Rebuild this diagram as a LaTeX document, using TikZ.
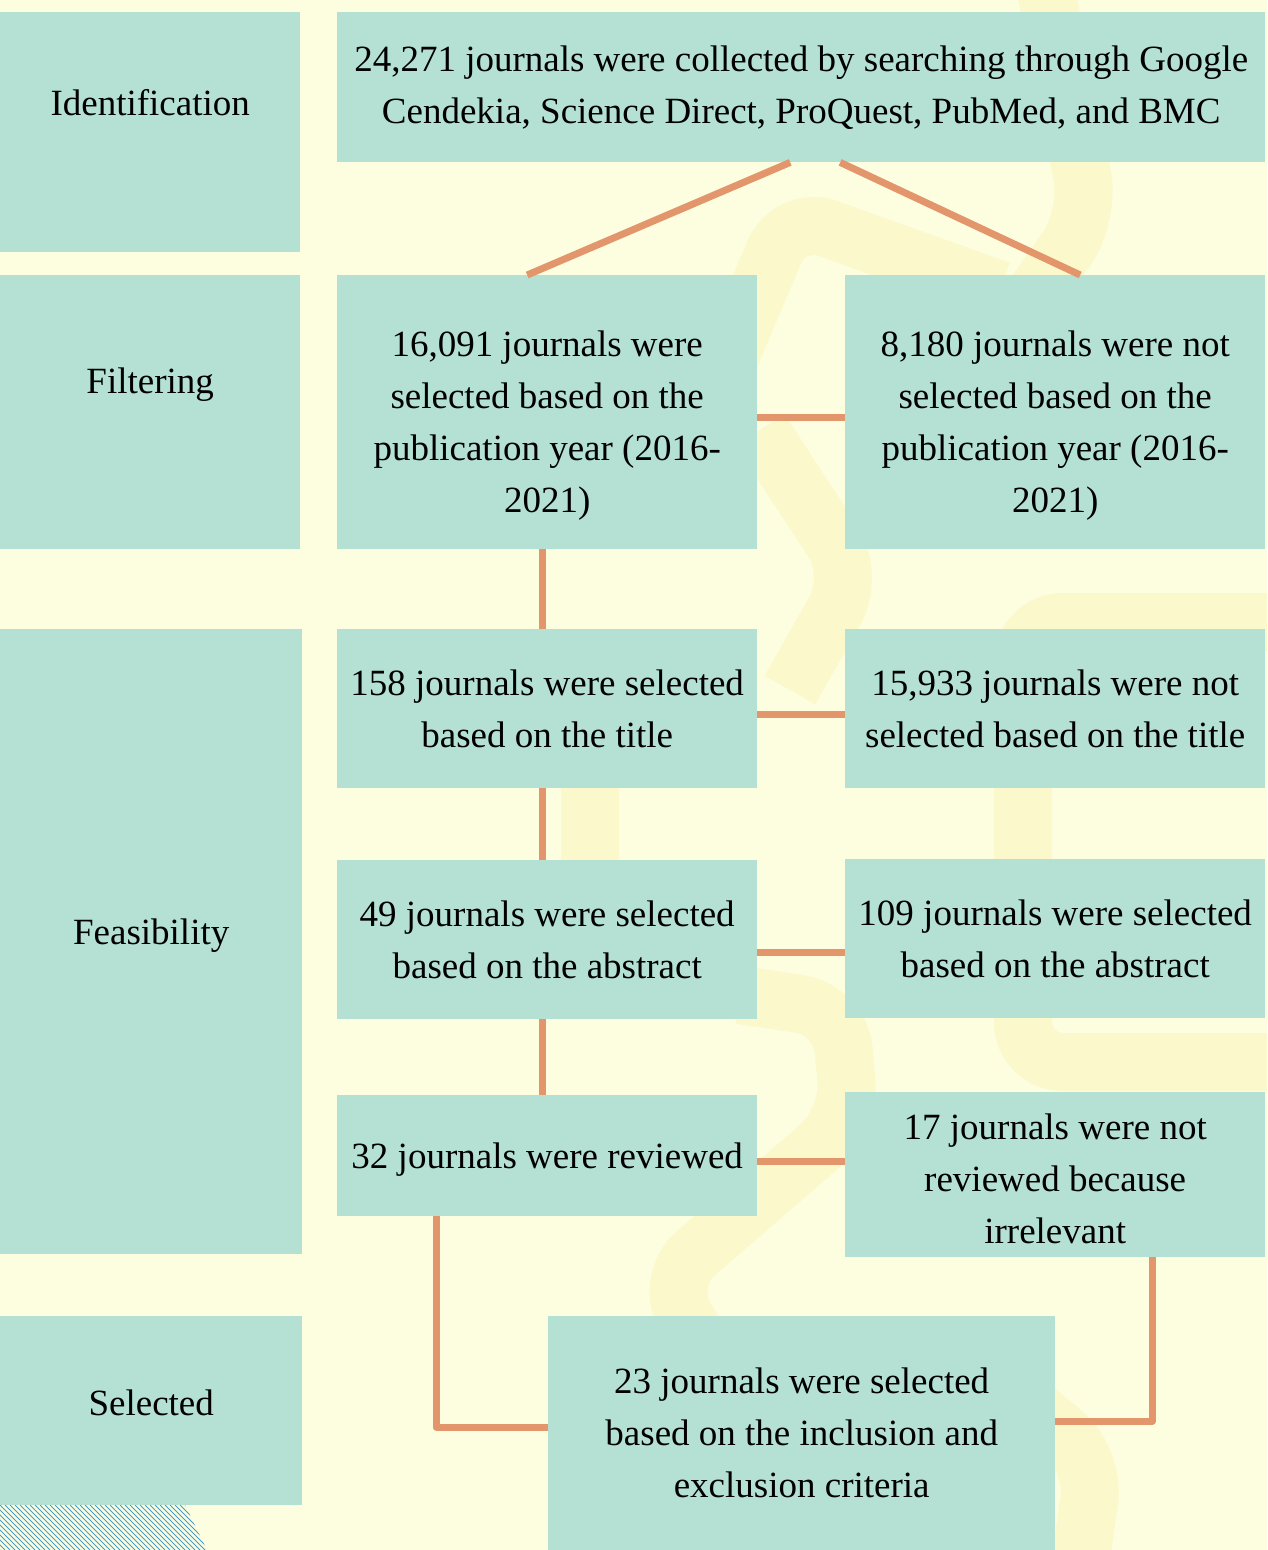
\documentclass[tikz,border=0pt]{standalone}
\usepackage{fontspec}
\setmainfont{Liberation Serif}

\definecolor{bgyellow}{HTML}{FDFEE0}
\definecolor{bandyellow}{HTML}{FBF8CB}
\definecolor{boxgreen}{HTML}{B4E1D4}
\definecolor{linkorange}{HTML}{E3956C}
\definecolor{hatchblue}{HTML}{4A9CC8}

\begin{document}
\begin{tikzpicture}[x=1pt,y=-1pt,
    stage/.style ={fill=boxgreen, inner sep=0pt, anchor=north west,
                   align=center, font=\fontsize{37}{52}\selectfont},
    phase/.style ={font=\fontsize{37}{52}\selectfont},
    link/.style ={draw=linkorange, line width=7pt, line join=round},
    band/.style ={draw=bandyellow, line width=58pt, rounded corners=40pt}]
   \useasboundingbox (0,0) rectangle (1267,1550);
   \fill[bgyellow] (0,0) rectangle (1267,1550);

   % faint background bands
   \begin{scope}
   \clip (0,0) rectangle (1267,1550);
   \draw[band] (1040,-40) -- (1090,215) -- (1010,330);
   \draw[band] (1000,290) -- (790,215) -- (720,380);
   \draw[band] (760,430) -- (855,575) -- (790,690);
   \draw[band] (590,650) -- (590,1000);
   \draw[band] (1300,622) -- (1023,622) -- (1023,1062) -- (1300,1062);
   \draw[band] (740,995) -- (840,1010) -- (850,1120) -- (665,1280) -- (720,1380);
   \draw[band] (1000,1380) -- (1095,1460) -- (1075,1600);
   \end{scope}

   % hatching in the corner
   \begin{scope}
   \clip (0,1505) -- (185,1505) -- (207,1550) -- (0,1550) -- cycle;
   \foreach \i in {0,5,...,260}
      \draw[hatchblue, line width=0.8pt] (\i-45,1505) -- (\i,1550);
   \end{scope}
   \draw[hatchblue, line width=1pt] (0.5,1397) -- (0.5,1505);

   % phases
   \node[stage, minimum width=300pt, minimum height=240pt,
         label={[name=identtxt, phase, yshift=30pt]center:Identification}] (ident) at (0,12) {};
   \node[stage, minimum width=300pt, minimum height=274pt,
         label={[name=filttxt, phase, yshift=28pt]center:Filtering}] (filt) at (0,275) {};
   \node[stage, minimum width=302pt, minimum height=625pt,
         label={[name=feastxt, phase, yshift=6pt]center:Feasibility}] (feas) at (0,629) {};
   \node[stage, minimum width=302pt, minimum height=189pt,
         label={[name=seltxt, phase, yshift=8pt]center:Selected}] (selside) at (0,1316) {};

   % journals
   \node[stage, minimum width=928pt, minimum height=150pt] (search) at (337,12)
        {24,271 journals were collected by searching through Google\\Cendekia, Science Direct, ProQuest, PubMed, and BMC};
   \node[stage, minimum width=420pt, minimum height=274pt] (pubyes) at (337,275)
        {\rule{0pt}{52pt}16,091 journals were\\selected based on the\\publication year (2016-\\2021)};
   \node[stage, minimum width=420pt, minimum height=274pt] (pubno) at (845,275)
        {\rule{0pt}{52pt}8,180 journals were not\\selected based on the\\publication year (2016-\\2021)};
   \node[stage, minimum width=420pt, minimum height=159pt] (titleyes) at (337,629)
        {158 journals were selected\\based on the title};
   \node[stage, minimum width=420pt, minimum height=159pt] (titleno) at (845,629)
        {15,933 journals were not\\selected based on the title};
   \node[stage, minimum width=420pt, minimum height=159pt] (absyes) at (337,860)
        {49 journals were selected\\based on the abstract};
   \node[stage, minimum width=420pt, minimum height=159pt] (absno) at (845,859)
        {109 journals were selected\\based on the abstract};
   \node[stage, minimum width=420pt, minimum height=121pt] (revyes) at (337,1095)
        {\rule{0pt}{34pt}32 journals were reviewed};
   \node[stage, minimum width=420pt, minimum height=165pt] (revno) at (845,1092)
        {\rule{0pt}{34pt}17 journals were not\\reviewed because\\irrelevant};
   \node[stage, minimum width=507pt, minimum height=234pt] (final) at (548,1316)
        {23 journals were selected\\based on the inclusion and\\exclusion criteria};

   \draw[link] ([xshift=-11pt]search.south) -- ([xshift=-20pt]pubyes.north);
   \draw[link] ([xshift=39pt]search.south) -- ([xshift=25pt]pubno.north);
   \draw[link] ([yshift=-5pt]pubyes.east) -- ([yshift=-5pt]pubyes.east -| pubno.west);
   \draw[link] ([xshift=-5pt]pubyes.south) -- ([xshift=-5pt]titleyes.north);
   \draw[link] ([yshift=-6pt]titleyes.east) -- ([yshift=-6pt]titleyes.east -| titleno.west);
   \draw[link] ([xshift=-5pt]titleyes.south) -- ([xshift=-5pt]absyes.north);
   \draw[link] ([yshift=-13pt]absyes.east) -- ([yshift=-13pt]absyes.east -| absno.west);
   \draw[link] ([xshift=-5pt]absyes.south) -- ([xshift=-5pt]revyes.north);
   \draw[link] ([yshift=-6pt]revyes.east) -- ([yshift=-6pt]revyes.east -| revno.west);
   \draw[link] ([xshift=-111pt]revyes.south) |- ([yshift=6pt]final.west);
   \draw[link] ([xshift=97pt]revno.south) |- ([yshift=12pt]final.east);
 \end{tikzpicture}
\end{document}
